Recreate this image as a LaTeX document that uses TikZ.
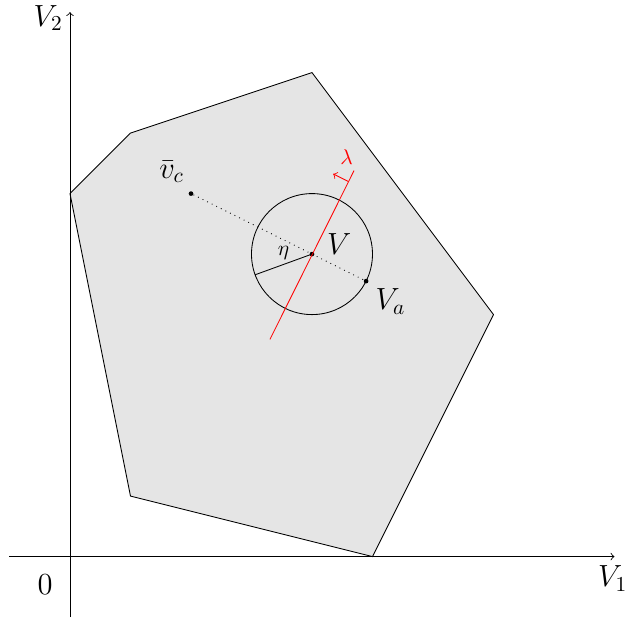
\documentclass[tikz,border=0pt]{standalone}
\usetikzlibrary{calc}
\begin{document}
\begin{tikzpicture}[
  lbl/.style={font=\Large, inner sep=1pt},
  dotpt/.style={circle, fill=black, inner sep=0pt, minimum size=2.2pt},
  axis/.style={->, >=to, thin}
]
\useasboundingbox (-1.157,-1.107) rectangle (9.24,9.2);
% polygon
\filldraw[fill=gray!20, draw=black] (0,6) -- (1,7) -- (4,8) -- (7,4) -- (5,0) -- (1,1) -- cycle;
% axes
\coordinate (xs) at (-1,0);
\coordinate (xe) at (9,0);
\coordinate (ys) at (0,-1);
\coordinate (ye) at (0,9);
\draw[axis] (xs) -- (xe);
\draw[axis] (ys) -- (ye);
\node[lbl, anchor=center] (v1lab) at (8.97,-0.36) {$V_1$};
\node[lbl, anchor=center] (v2lab) at (-0.36,8.9) {$V_2$};
\node[lbl, anchor=center] (zero) at (-0.41,-0.46) {$0$};
% points
\node[dotpt] (V) at (4,5) {};
\node[dotpt] (vc) at (2,6) {};
\node[dotpt] (Va) at ($(4,5)+({2/sqrt(5)},{-1/sqrt(5)})$) {};
\node[lbl, anchor=center] (vclab) at (1.68,6.36) {$\bar v_c$};
\node[lbl, anchor=center] (Valab) at (5.3,4.22) {$V_a$};
\node[lbl, anchor=center] (Vlab) at (4.45,5.17) {$V$};
% circle
\draw (V.center) circle (1);
\draw[dotted] (vc) -- (V.center) -- (Va);
% eta radius
\coordinate (etaend) at ($(V.center)+(200:1)$);
\draw (V.center) -- (etaend) node[midway, above=1pt, inner sep=1pt] (eta) {$\eta$};
% red line
\coordinate (rtop) at ($(V.center)+(0.695,1.38)$);
\coordinate (rbot) at ($(V.center)+(-0.695,-1.41)$);
\draw[red] (rbot) -- (rtop);
\coordinate (as) at ($(V.center)+(0.6,1.2)$);
\coordinate (ae) at ($(as)+(-0.25,0.125)$);
\draw[red, ->, >=to] (as) -- (ae);
\node[red, inner sep=1pt, anchor=center] (lam) at (4.57,6.6) {$\lambda$};
\end{tikzpicture}
\end{document}
